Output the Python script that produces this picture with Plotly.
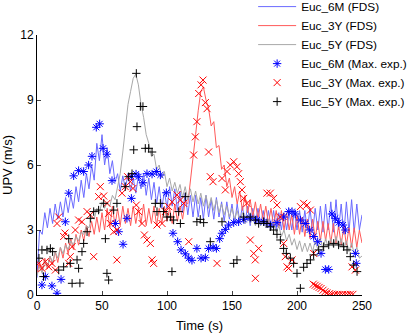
import plotly.graph_objects as go

# ---- FDS line data (sampled every 2 s) ----
LINE_T = list(range(0, 251, 2))

EUC_6M_FDS = [0.8, 3.0, 2.8, 3.8, 3.1, 4.0, 3.3, 4.2, 3.5, 4.3, 3.6, 4.5, 3.8, 4.6, 4.0, 5.0, 4.3, 5.3, 4.5, 5.6,
              4.9, 6.0, 5.3, 7.0, 6.2, 7.4, 6.0, 6.8, 5.6, 6.2, 5.2, 5.6, 4.8, 5.5, 4.9, 5.6, 4.8, 5.4, 4.7, 5.5,
              4.9, 5.6, 4.6, 5.4, 4.4, 5.2, 4.2, 5.0, 4.0, 4.8, 4.0, 5.0, 4.1, 4.9, 3.9, 4.8, 3.8, 4.7, 3.7, 4.6,
              3.6, 4.6, 3.6, 4.5, 3.5, 4.6, 3.6, 4.4, 3.5, 4.5, 3.6, 4.3, 3.4, 4.3, 3.5, 4.2, 3.3, 4.2, 3.4, 4.1,
              3.3, 4.1, 3.2, 4.0, 3.3, 4.0, 3.2, 3.9, 3.1, 3.9, 3.1, 3.9, 3.0, 3.8, 3.0, 3.8, 3.0, 3.8, 3.0, 3.9,
              3.0, 3.9, 2.9, 3.9, 3.0, 4.0, 2.9, 4.0, 3.0, 4.1, 2.9, 4.2, 3.0, 4.3, 2.9, 4.4, 3.0, 4.2, 2.8, 4.3,
              2.9, 4.4, 2.9, 4.2, 3.0, 3.7]

EUC_3Y_FDS = [1.0, 1.5, 1.1, 1.7, 1.2, 1.8, 1.4, 2.0, 1.5, 2.2, 1.7, 2.4, 1.9, 2.6, 2.1, 2.8, 2.3, 3.0, 2.5, 3.2,
              2.7, 3.4, 2.8, 3.6, 2.9, 3.8, 3.0, 4.0, 3.1, 4.1, 3.2, 4.0, 3.2, 4.1, 3.3, 4.0, 3.2, 4.1, 3.3, 4.0,
              3.3, 4.2, 3.2, 4.0, 3.3, 4.1, 3.2, 4.0, 3.3, 4.1, 3.4, 4.0, 3.3, 4.2, 3.4, 4.1, 3.5, 4.3, 4.2, 5.2,
              6.2, 7.4, 8.5, 9.4, 9.6, 9.0, 8.6, 7.8, 8.0, 6.8, 6.9, 5.8, 6.0, 5.0, 5.4, 4.5, 5.0, 4.2, 4.8, 3.9,
              4.6, 3.8, 4.4, 3.6, 4.3, 3.5, 4.2, 3.4, 4.1, 3.3, 4.0, 3.2, 3.9, 3.1, 3.9, 3.0, 3.8, 3.0, 3.7, 2.8,
              3.7, 2.8, 3.6, 2.7, 3.5, 2.6, 3.5, 2.6, 3.4, 2.5, 3.4, 2.5, 3.3, 2.4, 3.3, 2.4, 3.2, 2.3, 3.2, 2.3,
              3.1, 2.2, 3.1, 2.2, 3.0, 2.4]

EUC_5Y_FDS = [0.9, 1.3, 1.0, 1.6, 1.3, 1.8, 1.5, 2.0, 1.7, 2.2, 1.9, 2.3, 2.1, 2.5, 2.3, 2.7, 2.5, 2.9, 2.8, 3.2,
              3.1, 3.6, 3.5, 4.0, 3.8, 4.3, 4.0, 4.3, 4.1, 4.6, 4.4, 5.0, 5.6, 6.6, 7.8, 8.8, 9.4, 10.0, 10.2, 9.7,
              8.8, 8.2, 7.4, 7.0, 6.4, 6.5, 5.8, 6.0, 5.4, 5.7, 5.0, 5.4, 4.8, 5.2, 4.7, 5.1, 4.5, 5.0, 4.4, 4.9,
              4.3, 4.8, 4.2, 4.7, 4.1, 4.6, 4.0, 4.5, 3.9, 4.4, 3.8, 4.2, 3.7, 4.1, 3.6, 4.0, 3.5, 3.9, 3.4, 3.8,
              3.3, 3.7, 3.3, 3.6, 3.2, 3.6, 3.2, 3.5, 3.1, 3.5, 3.0, 3.4, 2.9, 3.2, 2.7, 3.0, 2.5, 2.8, 2.3, 2.6,
              2.1, 2.5, 2.0, 2.4, 2.0, 2.4, 2.0, 2.5, 2.1, 2.6, 2.1, 2.6, 2.2, 2.6, 2.2, 2.7, 2.2, 2.6, 2.1, 2.5,
              2.0, 2.4, 1.9, 2.2, 1.7, 1.8]

# ---- Max. exp. markers ----
EUC_6M_EXP_T = [3.8, 6.4, 11.5, 15.4, 18.5, 21.8, 24.4, 28.2, 32, 35.9, 39.7, 42.3, 45.6, 48.2, 50.8,
                53.8, 57.7, 60.3, 62.8, 66.2, 69.2, 72.6, 72.6, 76.2, 78.2, 81.5, 84.6, 88.5, 91.8, 94.9,
                99.5, 104.6, 108.2, 110.8, 114.1, 116.7, 119.2, 123, 126.2, 129.5, 132, 135.4, 138, 140.5, 142.3,
                144.9, 147.4, 151.3, 155.1, 159, 164, 169.2, 174.4, 179.5, 184.6, 189.7, 193.6, 196.2, 198.7, 202.6,
                206.4, 209.7, 212.8, 215.9, 218.5, 221.8, 224.4, 226.9, 229.5, 232, 235.4, 237.2, 244.9, 245.6]
EUC_6M_EXP_V = [0.46, 0.85, 0.42, 0.08, 0.72, 3.38, 4.7, 5.5, 5.74, 5.7, 6.0, 6.4, 7.74, 7.9, 6.77,
                6.5, 5.28, 3.3, 2.92, 2.34, 3.54, 4.46, 5.46, 5.58, 5.46, 5.18, 5.6, 5.58, 5.7, 5.54,
                4.72, 2.85, 2.46, 2.08, 1.9, 1.7, 1.6, 2.15, 1.7, 1.72, 2.15, 2.2, 2.15, 2.6, 2.85,
                3.03, 3.23, 3.34, 3.38, 3.49, 3.54, 3.46, 3.38, 3.23, 3.34, 3.6, 3.85, 3.85, 3.74, 3.46,
                3.3, 3.0, 2.7, 2.46, 1.92, 1.18, 1.18, 3.74, 3.54, 3.34, 3.23, 3.0, 1.92, 1.46]

EUC_3Y_EXP_T = [1.3, 3.8, 6.4, 9.0, 11.5, 14.1, 15.4, 16.7, 20.5, 21.5, 24.4, 25.6, 27, 29.5, 32, 34.6, 38.5, 41,
                43.6, 47.4, 48.7, 51.3, 53.8, 55.1, 56.4, 59, 61.5, 61.5, 65.4, 67.9, 69.7, 71.8, 73.8, 76.4,
                78.2, 80.8, 82.6, 84.6, 87.2, 88.5, 89.7, 92.3, 96.2, 98.7, 101.3, 103.8, 107.7, 110.3, 112.8,
                116.7, 120.5, 121.8, 123, 124.4, 126.2, 127.7, 129.5, 130.8, 132, 133.3, 135.4, 138.5, 142.3,
                144.9, 146.2, 148.7, 151.3, 153.8, 155.1, 156.4, 157.7, 159, 161.5, 164.1, 166.7, 167.9, 168,
                170.5, 176.9, 179.5, 182, 184.6, 187.2, 189.7, 191, 192.3, 193.6, 196.2, 202.6, 205.1, 207.7,
                210.3, 212.8, 212.5, 214, 215.5, 217, 218.5, 220, 221.5, 223, 225, 227, 229, 231, 233, 235, 237,
                239, 241, 243, 242.3, 244.9]
EUC_3Y_EXP_V = [1.46, 1.23, 1.54, 1.3, 1.46, 1.15, 3.3, 3.6, 2.7, 2.86, 1.46, 1.77, 2.23, 3.0, 3.46, 3.38, 3.85, 3.7,
                1.77, 4.54, 5.0, 4.57, 4.23, 3.77, 3.3, 2.92, 3.0, 1.62, 4.7, 5.0, 5.46, 5.23, 4.92, 4.15,
                3.85, 3.3, 2.77, 2.54, 2.38, 1.62, 1.46, 3.23, 3.3, 3.85, 4.08, 4.3, 4.62, 4.38, 4.23,
                2.46, 6.46, 7.3, 8.0, 9.3, 9.7, 9.92, 8.88, 8.6, 6.6, 5.46, 5.23, 1.46, 5.38,
                4.85, 5.7, 6.0, 6.15, 5.92, 5.6, 5.23, 4.85, 4.46, 4.23, 2.54, 1.92, 1.62, 0.77,
                2.15, 4.7, 4.7, 4.46, 4.15, 3.6, 2.38, 1.77, 1.3, 1.23, 1.62, 4.08, 4.23, 4.15,
                3.92, 1.92, 0.5, 0.45, 0.4, 0.35, 0.3, 0.22, 0.15, 0.1, 0.06, 0.04, 0.03, 0.03, 0.02, 0.02, 0.02,
                0.02, 0.03, 0.03, 1.3, 1.15]

EUC_5Y_EXP_T = [1.5, 3.8, 5, 7.7, 10.3, 12, 16.7, 20.5, 24.4, 25.6, 27, 30.8, 32, 33, 34.6, 35.9, 38.5, 41, 43.6,
                47.4, 51.3, 52.6, 53.8, 55.1, 59, 61.5, 67.9, 70.5, 73.1, 74.4, 76.4, 76.9, 79.5, 81.5, 83.3,
                85.9, 88.5, 91, 92.3, 94.9, 97.4, 100, 102.6, 103.8, 105.1, 109, 110.3, 114.1, 123, 125.6, 128.2,
                133.3, 142.3, 151.3, 153.8, 159, 164, 168, 170.5, 174.4, 176.9, 179.5, 182, 184.6, 187.2, 189.7,
                191.8, 194.9, 197.4, 200, 202.6, 205.1, 207.7, 210.3, 212.8, 216.7, 220.5, 224.4, 228.2, 232,
                235.9, 238.5, 241, 243.6, 246.2]
EUC_5Y_EXP_V = [1.7, 2.08, 0.85, 2.08, 2.15, 2.0, 1.15, 1.3, 2.6, 1.46, 0.54, 1.62, 1.23, 0.55, 2.0, 2.38, 2.92, 3.54,
                3.85, 3.92, 4.23, 2.6, 1.0, 0.69, 3.92, 4.23, 5.0, 5.46, 5.6, 6.7, 10.23, 7.77, 8.7, 8.7, 6.77,
                6.77, 6.6, 4.23, 3.85, 4.23, 3.85, 3.6, 3.6, 1.08, 3.46, 3.85, 3.3, 4.54, 3.38, 3.49, 3.34,
                2.46, 3.38, 1.46, 1.62, 3.6, 3.6, 3.46, 3.3, 3.38, 3.3, 3.15, 3.0, 2.8, 2.54, 2.15,
                1.92, 1.7, 1.46, 1.0, 0.31, 1.28, 1.46, 1.62, 1.85, 2.08, 2.23, 2.31, 2.38, 2.31,
                2.23, 2.08, 1.77, 1.38, 1.08]

X_TICKS = [0, 50, 100, 150, 200, 250]
Y_TICKS = [0, 3, 6, 9, 12]

FONT = "Liberation Sans, Arial, Helvetica, sans-serif"

fig = go.Figure()

fig.add_trace(go.Scatter(x=LINE_T, y=EUC_6M_FDS, mode="lines", name="Euc_6M (FDS)",
                         line=dict(color="#6a6aff", width=1)))
fig.add_trace(go.Scatter(x=LINE_T, y=EUC_3Y_FDS, mode="lines", name="Euc_3Y (FDS)",
                         line=dict(color="#ff5a5a", width=1)))
fig.add_trace(go.Scatter(x=LINE_T, y=EUC_5Y_FDS, mode="lines", name="Euc_5Y (FDS)",
                         line=dict(color="#a8a8a8", width=1)))

fig.add_trace(go.Scatter(x=EUC_6M_EXP_T, y=EUC_6M_EXP_V, mode="markers", name="Euc_6M (Max. exp.)",
                         marker=dict(symbol="asterisk-open", size=7, color="#0000ff",
                                     line=dict(color="#0000ff", width=1))))
fig.add_trace(go.Scatter(x=EUC_3Y_EXP_T, y=EUC_3Y_EXP_V, mode="markers", name="Euc_3Y (Max. exp.)",
                         marker=dict(symbol="x-thin-open", size=7, color="#ff0000",
                                     line=dict(color="#ff0000", width=1))))
fig.add_trace(go.Scatter(x=EUC_5Y_EXP_T, y=EUC_5Y_EXP_V, mode="markers", name="Euc_5Y (Max. exp.)",
                         marker=dict(symbol="cross-thin-open", size=6, color="#000000",
                                     line=dict(color="#000000", width=1))))

fig.update_layout(
    width=407, height=335,
    margin=dict(l=37, r=45, t=35, b=40, autoexpand=False),
    paper_bgcolor="white", plot_bgcolor="white",
    font=dict(family=FONT, size=12, color="black"),
    showlegend=True,
    legend=dict(x=0.665, y=1.165, xanchor="left", yanchor="top",
                bgcolor="rgba(255,255,255,0)", borderwidth=0,
                font=dict(size=11.8), tracegroupgap=0, itemwidth=38),
    xaxis=dict(range=[0, 250], tickvals=X_TICKS, ticks="inside", ticklen=4,
               showline=True, linecolor="black", linewidth=1, showgrid=False, zeroline=False,
               automargin=False,
               title=dict(text="Time (s)", font=dict(size=13), standoff=8),
               tickfont=dict(size=12)),
    yaxis=dict(range=[0, 12], tickvals=Y_TICKS, ticks="inside", ticklen=4,
               showline=True, linecolor="black", linewidth=1, showgrid=False, zeroline=False,
               automargin=False,
               title=dict(text="UPV (m/s)", font=dict(size=13), standoff=6),
               tickfont=dict(size=12)),
)

fig.write_html("out.html", config={"displayModeBar": False},
               post_script="document.body.style.margin='0';document.body.style.overflow='hidden';")
